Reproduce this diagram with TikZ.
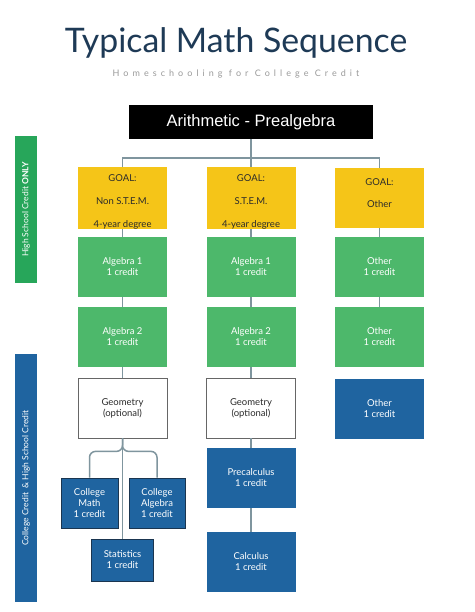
\documentclass[tikz,border=0pt]{standalone}
\usepackage{fontspec}
\setmainfont{Lato}
\newfontfamily\arialfont{Liberation Sans}
\newfontfamily\spacedfont[LetterSpace=45]{Lato}
\usetikzlibrary{calc}
\definecolor{titleblue}{HTML}{1E3A56}
\definecolor{subgray}{HTML}{9A9A9A}
\definecolor{goalyellow}{HTML}{F5C518}
\definecolor{boxgreen}{HTML}{4DB86B}
\definecolor{sidegreen}{HTML}{27A65A}
\definecolor{boxblue}{HTML}{1F64A0}
\definecolor{connc}{HTML}{7F959E}
\definecolor{darkborder}{HTML}{1A3550}
\definecolor{textdark}{HTML}{2B2B2B}
\tikzset{
  base/.style={rectangle, inner sep=0pt, align=center, font=\fontsize{9.5}{11}\selectfont},
  goalbox/.style={base, fill=goalyellow, text=textdark, minimum width=89pt, minimum height=60pt, font=\fontsize{9.5}{23}\selectfont},
  greenbox/.style={base, fill=boxgreen, text=white, minimum width=89pt, minimum height=60pt},
  geobox/.style={base, fill=white, draw=gray!80!black, line width=0.8pt, text=textdark, minimum width=89pt, minimum height=60pt},
  bluebox/.style={base, fill=boxblue, text=white, minimum width=89pt, minimum height=60pt},
  smallblue/.style={base, fill=boxblue, text=white, draw=darkborder, line width=1pt},
  conn/.style={draw=connc, line width=1.5pt},
  sidebar/.style={rectangle, inner sep=0pt, minimum width=22pt},
  sidetext/.style={rotate=90, text=white, inner sep=0pt, font=\fontsize{8.5}{10}\selectfont}
}
\begin{document}
\begin{tikzpicture}[x=1pt,y=-1pt]
\useasboundingbox (0,0) rectangle (474,612);
\fill[white] (0,0) rectangle (474,612);
% title
\node[anchor=base, text=titleblue, font=\fontsize{33.8}{40}\selectfont, inner sep=0pt] (title) at (236,53) {Typical Math Sequence};
\node[anchor=base, text=subgray, font=\fontsize{9}{10}\spacedfont, inner sep=0pt] (subtitle) at (236,77) {Homeschooling for College Credit};
% root
\node[rectangle, fill=black, text=white, minimum width=244pt, minimum height=34pt, inner sep=0pt, font=\fontsize{16.5}{19}\arialfont] (arith) at (251,122) {Arithmetic - Prealgebra};
% side bars
\node[sidebar, fill=sidegreen, minimum height=147pt] (hsbar) at (26,209.5) {};
\node[sidetext] (hstext) at (hsbar.center) {High School Credit \textbf{ONLY}};
\node[sidebar, fill=boxblue, minimum height=248pt] (ccbar) at (26,478) {};
\node[sidetext] (cctext) at (ccbar.center) {College Credit\ \ \& High School Credit};
% goals
\node[goalbox] (goal1) at (122.5,198) {\rule{0pt}{14pt}GOAL:\\Non S.T.E.M.\\4-year degree};
\node[goalbox] (goal2) at (251,198) {\rule{0pt}{14pt}GOAL:\\S.T.E.M.\\4-year degree};
\node[goalbox, font=\fontsize{9.5}{22}\selectfont] (goal3) at (379.5,198) {GOAL:\\Other\rule[-9pt]{0pt}{0pt}};
% green
\node[greenbox] (alg1a) at (122.5,267) {Algebra 1\\1 credit};
\node[greenbox] (alg2a) at (122.5,337) {Algebra 2\\1 credit};
\node[greenbox] (alg1b) at (251,267) {Algebra 1\\1 credit};
\node[greenbox] (alg2b) at (251,337) {Algebra 2\\1 credit};
\node[greenbox] (oth1) at (379.5,267) {Other\\1 credit};
\node[greenbox] (oth2) at (379.5,337) {Other\\1 credit};
% geometry
\node[geobox] (geo1) at (122.5,408) {Geometry\\(optional)};
\node[geobox] (geo2) at (251,408) {Geometry\\(optional)};
\node[bluebox] (oth3) at (379.5,409) {Other\\1 credit};
% blue column 2
\node[bluebox] (precalc) at (251,478) {Precalculus\\1 credit};
\node[bluebox] (calc) at (251,562) {Calculus\\1 credit};
% column 1 college
\node[smallblue, minimum width=57pt, minimum height=50pt] (cmath) at (89.5,503) {College\\Math\\1 credit};
\node[smallblue, minimum width=56pt, minimum height=50pt] (calg) at (157,503) {College\\Algebra\\1 credit};
\node[smallblue, minimum width=62pt, minimum height=42pt] (stats) at (122.5,560) {Statistics\\1 credit};
% connectors
\path (arith.south) ++(0,19) coordinate (hub);
\draw[conn] (arith.south) -- (hub);
\draw[conn] (goal1.north) |- (hub) -| (goal3.north);
\draw[conn] (hub) -- (goal2.north);
\draw[conn] (goal1.south) -- (alg1a.north);
\draw[conn] (alg1a.south) -- (alg2a.north);
\draw[conn] (alg2a.south) -- (geo1.north);
\draw[conn] (goal2.south) -- (alg1b.north);
\draw[conn] (alg1b.south) -- (alg2b.north);
\draw[conn] (alg2b.south) -- (geo2.north);
\draw[conn] (geo2.south) -- (precalc.north);
\draw[conn] (precalc.south) -- (calc.north);
\draw[conn] (goal3.south) -- (oth1.north);
\draw[conn] (oth1.south) -- (oth2.north);
% brace
\path (geo1.south) ++(0,13) coordinate (bry);
\draw[conn] (geo1.south) -- (stats.north);
\draw[conn, rounded corners=6pt] (geo1.south) |- (cmath.north |- bry) -- (cmath.north);
\draw[conn, rounded corners=6pt] (geo1.south) |- (calg.north |- bry) -- (calg.north);
\end{tikzpicture}
\end{document}
